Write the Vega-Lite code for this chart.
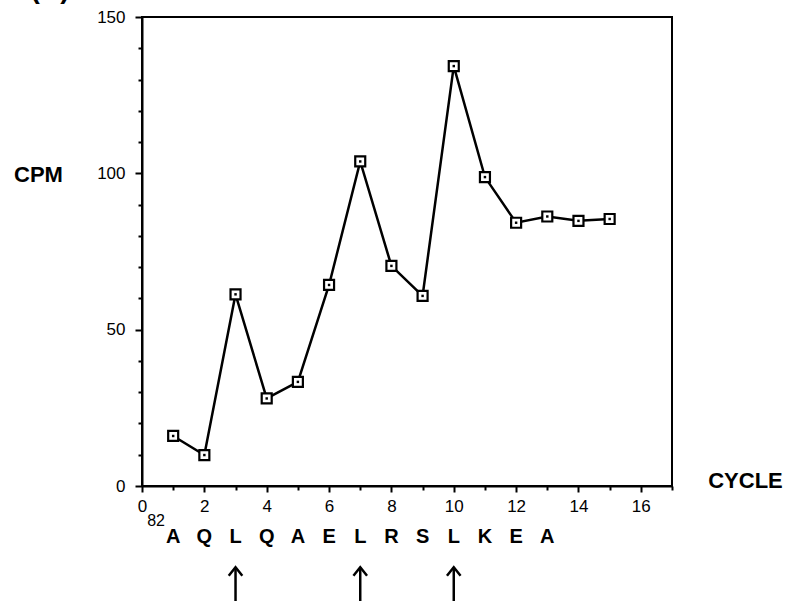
{
  "$schema": "https://vega.github.io/schema/vega-lite/v6.json",
  "width": 530,
  "height": 469,
  "autosize": "none",
  "padding": {"left": 142, "top": 17, "right": 125, "bottom": 115},
  "background": "white",
  "config": {
    "view": {"stroke": "black", "strokeWidth": 2},
    "font": "Liberation Sans",
    "axis": {
      "labelOverlap": false,
      "labelFlush": false,
      "grid": false,
      "tickColor": "black",
      "tickWidth": 2,
      "domainColor": "black",
      "domainWidth": 2,
      "labelColor": "black",
      "titleColor": "black"
    }
  },
  "resolve": {"axis": {"x": "independent", "y": "independent"}},
  "datasets": {
    "cpm": [
      {"cycle": 1, "cpm": 16.0},
      {"cycle": 2, "cpm": 9.9},
      {"cycle": 3, "cpm": 61.3},
      {"cycle": 4, "cpm": 28.0},
      {"cycle": 5, "cpm": 33.3},
      {"cycle": 6, "cpm": 64.3},
      {"cycle": 7, "cpm": 103.8},
      {"cycle": 8, "cpm": 70.4},
      {"cycle": 9, "cpm": 60.8},
      {"cycle": 10, "cpm": 134.3},
      {"cycle": 11, "cpm": 98.8},
      {"cycle": 12, "cpm": 84.2},
      {"cycle": 13, "cpm": 86.2},
      {"cycle": 14, "cpm": 84.8},
      {"cycle": 15, "cpm": 85.4}
    ],
    "seq": [
      {"cycle": 1, "residue": "A"},
      {"cycle": 2, "residue": "Q"},
      {"cycle": 3, "residue": "L"},
      {"cycle": 4, "residue": "Q"},
      {"cycle": 5, "residue": "A"},
      {"cycle": 6, "residue": "E"},
      {"cycle": 7, "residue": "L"},
      {"cycle": 8, "residue": "R"},
      {"cycle": 9, "residue": "S"},
      {"cycle": 10, "residue": "L"},
      {"cycle": 11, "residue": "K"},
      {"cycle": 12, "residue": "E"},
      {"cycle": 13, "residue": "A"}
    ],
    "arrows": [{"cycle": 3}, {"cycle": 7}, {"cycle": 10}]
  },
  "layer": [
    {
      "data": {"name": "cpm"},
      "encoding": {
        "x": {
          "field": "cycle",
          "type": "quantitative",
          "scale": {"domain": [0, 17], "nice": false, "zero": false},
          "axis": {
            "values": [0, 1, 2, 3, 4, 5, 6, 7, 8, 9, 10, 11, 12, 13, 14, 15, 16, 17],
            "labelExpr": "datum.value % 2 === 0 && datum.value < 17 ? datum.label : ''",
            "tickSize": {"condition": {"test": "datum.value % 2 === 0", "value": 6}, "value": 4},
            "labelFontSize": 17,
            "labelPadding": 6,
            "labelOverlap": false,
            "title": "CYCLE",
            "titleFontSize": 22,
            "titleFontWeight": "bold",
            "titleX": 603,
            "titleY": -6,
            "titleAlign": "center",
            "titleBaseline": "middle"
          }
        },
        "y": {
          "field": "cpm",
          "type": "quantitative",
          "scale": {"domain": [0, 150], "nice": false},
          "axis": {
            "values": [0, 10, 20, 30, 40, 50, 60, 70, 80, 90, 100, 110, 120, 130, 140, 150],
            "labelExpr": "datum.value % 50 === 0 ? datum.label : ''",
            "tickSize": {"condition": {"test": "datum.value % 50 === 0", "value": 7}, "value": 4},
            "labelFontSize": 17,
            "labelPadding": 10,
            "labelOverlap": false,
            "title": "CPM",
            "titleFontSize": 22,
            "titleFontWeight": "bold",
            "titleAngle": 0,
            "titleX": -104,
            "titleY": 157,
            "titleAlign": "center",
            "titleBaseline": "middle"
          }
        }
      },
      "layer": [
        {"mark": {"type": "line", "color": "black", "strokeWidth": 2.5}},
        {"mark": {"type": "point", "shape": "square", "size": 100, "filled": true, "fill": "white", "stroke": "black", "strokeWidth": 2.2, "opacity": 1}},
        {"mark": {"type": "point", "shape": "square", "size": 6, "filled": true, "color": "black", "opacity": 1}}
      ]
    },
    {
      "data": {"name": "seq"},
      "mark": {"type": "text", "fontSize": 20, "fontWeight": "bold", "baseline": "middle", "align": "center", "color": "black"},
      "encoding": {
        "x": {"field": "cycle", "type": "quantitative", "axis": null},
        "y": {"datum": -16.3, "axis": null},
        "text": {"field": "residue"}
      }
    },
    {
      "data": {"values": [{"label": "82"}]},
      "mark": {"type": "text", "fontSize": 16, "baseline": "middle", "align": "center", "color": "black"},
      "encoding": {
        "x": {"datum": 0.45, "axis": null},
        "y": {"datum": -11.2, "axis": null},
        "text": {"field": "label"}
      }
    },
    {
      "data": {"name": "arrows"},
      "mark": {"type": "rule", "color": "black", "strokeWidth": 2.5},
      "encoding": {
        "x": {"field": "cycle", "type": "quantitative", "axis": null},
        "y": {"datum": -26, "axis": null},
        "y2": {"datum": -40}
      }
    },
    {
      "data": {"name": "arrows"},
      "mark": {"type": "point", "shape": "M-0.85,1.05L0,0L0.85,1.05", "size": 256, "filled": false, "stroke": "black", "strokeWidth": 2.5, "opacity": 1},
      "encoding": {
        "x": {"field": "cycle", "type": "quantitative", "axis": null},
        "y": {"datum": -26, "axis": null}
      }
    },
    {
      "data": {"values": [{"label": "(A)"}]},
      "mark": {"type": "text", "fontSize": 28, "fontWeight": "bold", "baseline": "alphabetic", "align": "center", "color": "black"},
      "encoding": {
        "x": {"datum": -2.95, "axis": null},
        "y": {"datum": 156, "axis": null},
        "text": {"field": "label"}
      }
    }
  ]
}
